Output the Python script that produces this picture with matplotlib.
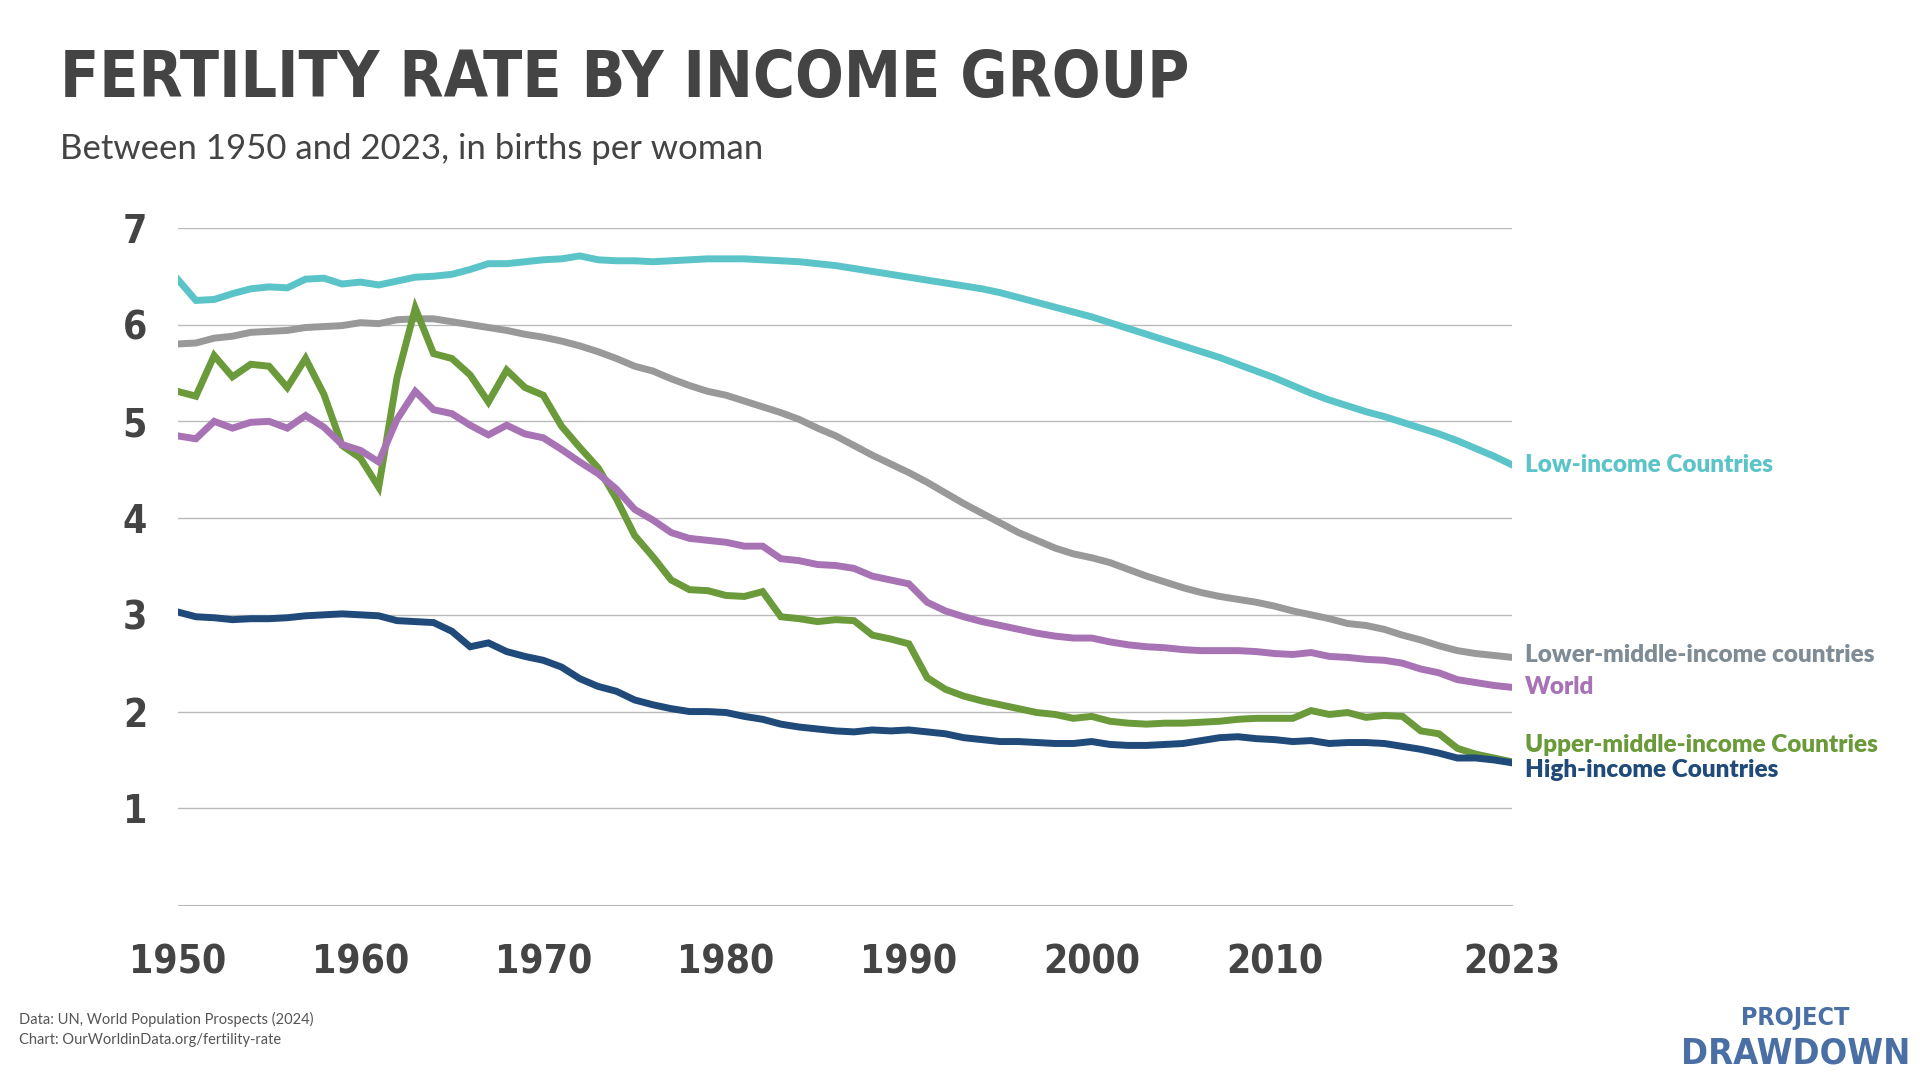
import numpy as np
from matplotlib import pyplot as plt

years = list(range(1950, 2024))

low_income = [6.47, 6.25, 6.26, 6.32, 6.37, 6.39, 6.38, 6.47, 6.48, 6.42,
              6.44, 6.41, 6.45, 6.49, 6.50, 6.52, 6.57, 6.63, 6.63, 6.65,
              6.67, 6.68, 6.71, 6.67, 6.66, 6.66, 6.65, 6.66, 6.67, 6.68,
              6.68, 6.68, 6.67, 6.66, 6.65, 6.63, 6.61, 6.58, 6.55, 6.52,
              6.49, 6.46, 6.43, 6.40, 6.37, 6.33, 6.28, 6.23, 6.18, 6.13,
              6.08, 6.02, 5.96, 5.90, 5.84, 5.78, 5.72, 5.66, 5.59, 5.52,
              5.45, 5.37, 5.29, 5.22, 5.16, 5.10, 5.05, 4.99, 4.93, 4.87,
              4.80, 4.72, 4.64, 4.55]
lower_middle = [5.80, 5.81, 5.86, 5.88, 5.92, 5.93, 5.94, 5.97, 5.98, 5.99,
                6.02, 6.01, 6.05, 6.06, 6.06, 6.03, 6.00, 5.97, 5.94, 5.90,
                5.87, 5.83, 5.78, 5.72, 5.65, 5.57, 5.52, 5.44, 5.37, 5.31,
                5.27, 5.21, 5.15, 5.09, 5.02, 4.93, 4.85, 4.75, 4.65, 4.56,
                4.47, 4.37, 4.26, 4.15, 4.05, 3.95, 3.85, 3.77, 3.69, 3.63,
                3.59, 3.54, 3.47, 3.40, 3.34, 3.28, 3.23, 3.19, 3.16, 3.13,
                3.09, 3.04, 3.00, 2.96, 2.91, 2.89, 2.85, 2.79, 2.74, 2.68,
                2.63, 2.60, 2.58, 2.56]
upper_middle = [5.31, 5.26, 5.68, 5.46, 5.59, 5.57, 5.35, 5.65, 5.28, 4.75,
                4.62, 4.32, 5.45, 6.17, 5.70, 5.65, 5.48, 5.20, 5.53, 5.35,
                5.27, 4.95, 4.73, 4.52, 4.20, 3.82, 3.60, 3.36, 3.26, 3.25,
                3.20, 3.19, 3.24, 2.98, 2.96, 2.93, 2.95, 2.94, 2.79, 2.75,
                2.70, 2.35, 2.23, 2.16, 2.11, 2.07, 2.03, 1.99, 1.97, 1.93,
                1.95, 1.90, 1.88, 1.87, 1.88, 1.88, 1.89, 1.90, 1.92, 1.93,
                1.93, 1.93, 2.01, 1.97, 1.99, 1.94, 1.96, 1.95, 1.80, 1.77,
                1.62, 1.56, 1.52, 1.48]
world = [4.85, 4.82, 5.00, 4.93, 4.99, 5.00, 4.93, 5.06, 4.94, 4.76,
         4.70, 4.58, 5.02, 5.31, 5.12, 5.08, 4.96, 4.86, 4.96, 4.87,
         4.83, 4.71, 4.58, 4.46, 4.30, 4.09, 3.98, 3.85, 3.79, 3.77,
         3.75, 3.71, 3.71, 3.58, 3.56, 3.52, 3.51, 3.48, 3.40, 3.36,
         3.32, 3.13, 3.04, 2.98, 2.93, 2.89, 2.85, 2.81, 2.78, 2.76,
         2.76, 2.72, 2.69, 2.67, 2.66, 2.64, 2.63, 2.63, 2.63, 2.62,
         2.60, 2.59, 2.61, 2.57, 2.56, 2.54, 2.53, 2.50, 2.44, 2.40,
         2.33, 2.30, 2.27, 2.25]
high_income = [3.03, 2.98, 2.97, 2.95, 2.96, 2.96, 2.97, 2.99, 3.00, 3.01,
               3.00, 2.99, 2.94, 2.93, 2.92, 2.83, 2.67, 2.71, 2.62, 2.57,
               2.53, 2.46, 2.34, 2.26, 2.21, 2.12, 2.07, 2.03, 2.00, 2.00,
               1.99, 1.95, 1.92, 1.87, 1.84, 1.82, 1.80, 1.79, 1.81, 1.80,
               1.81, 1.79, 1.77, 1.73, 1.71, 1.69, 1.69, 1.68, 1.67, 1.67,
               1.69, 1.66, 1.65, 1.65, 1.66, 1.67, 1.70, 1.73, 1.74, 1.72,
               1.71, 1.69, 1.70, 1.67, 1.68, 1.68, 1.67, 1.64, 1.61, 1.57,
               1.52, 1.52, 1.50, 1.47]

xticks = [1950, 1960, 1970, 1980, 1990, 2000, 2010, 2023]
yticks = [1, 2, 3, 4, 5, 6, 7]

# (values, colour, label, label y)
series = [
    (low_income, '#5bc4c8', 'Low-income Countries', 4.55),
    (lower_middle, '#999999', 'Lower-middle-income countries', 2.58),
    (upper_middle, '#6a9a3a', 'Upper-middle-income Countries', 1.65),
    (world, '#a873b5', 'World', 2.25),
    (high_income, '#1f4a7a', 'High-income Countries', 1.40),
]
label_colors = {'Lower-middle-income countries': '#7f8c95'}

cond = dict(family='DejaVu Sans', fontstretch='condensed', fontweight='bold')

fig = plt.figure(figsize=(19.2, 10.8), dpi=100)
ax = fig.add_axes([0.0925, 0.162, 0.6951, 0.627])

for vals, col, lab, ly in series:
    ax.plot(years, vals, color=col, lw=5, solid_joinstyle='miter')
for vals, col, lab, ly in series:
    ax.text(2023.7, ly, lab, color=label_colors.get(lab, col), fontsize=17.5,
            fontweight='heavy', va='center', ha='left', clip_on=False,
            family=['Lato', 'DejaVu Sans'])

ax.set_xlim(1950, 2023)
ax.set_ylim(0, 7)
ax.set_yticks(yticks)
ax.set_xticks(xticks)
ax.set_xticklabels([str(x) for x in xticks], fontsize=28, color='#444444', **cond)
ax.set_yticklabels([str(y) for y in yticks], fontsize=28, color='#444444', **cond)
ax.tick_params(length=0, pad=22)
ax.tick_params(axis='x', pad=28)
ax.grid(axis='y', color='#bbbbbb', lw=1)
ax.set_axisbelow(True)
for s in ['top', 'right', 'left']:
    ax.spines[s].set_visible(False)
ax.spines['bottom'].set_color('#bbbbbb')

fig.text(0.031, 0.927, 'FERTILITY RATE BY INCOME GROUP', fontsize=46,
         color='#444444', va='center', **cond)
fig.text(0.031, 0.862, 'Between 1950 and 2023, in births per woman', fontsize=25,
         color='#444444', family=['Lato', 'DejaVu Sans'], va='center')
fig.text(0.01, 0.047, 'Data: UN, World Population Prospects (2024)\nChart: OurWorldinData.org/fertility-rate',
         fontsize=10.5, color='#555555', family=['Lato', 'DejaVu Sans'], va='center',
         linespacing=1.5)
fig.text(0.935, 0.057, 'PROJECT', fontsize=18, color='#4a6fa5',
         ha='center', va='center', **cond)
fig.text(0.935, 0.025, 'DRAWDOWN', fontsize=26, color='#4a6fa5',
         ha='center', va='center', **cond)

plt.savefig('out.png', dpi=100)
